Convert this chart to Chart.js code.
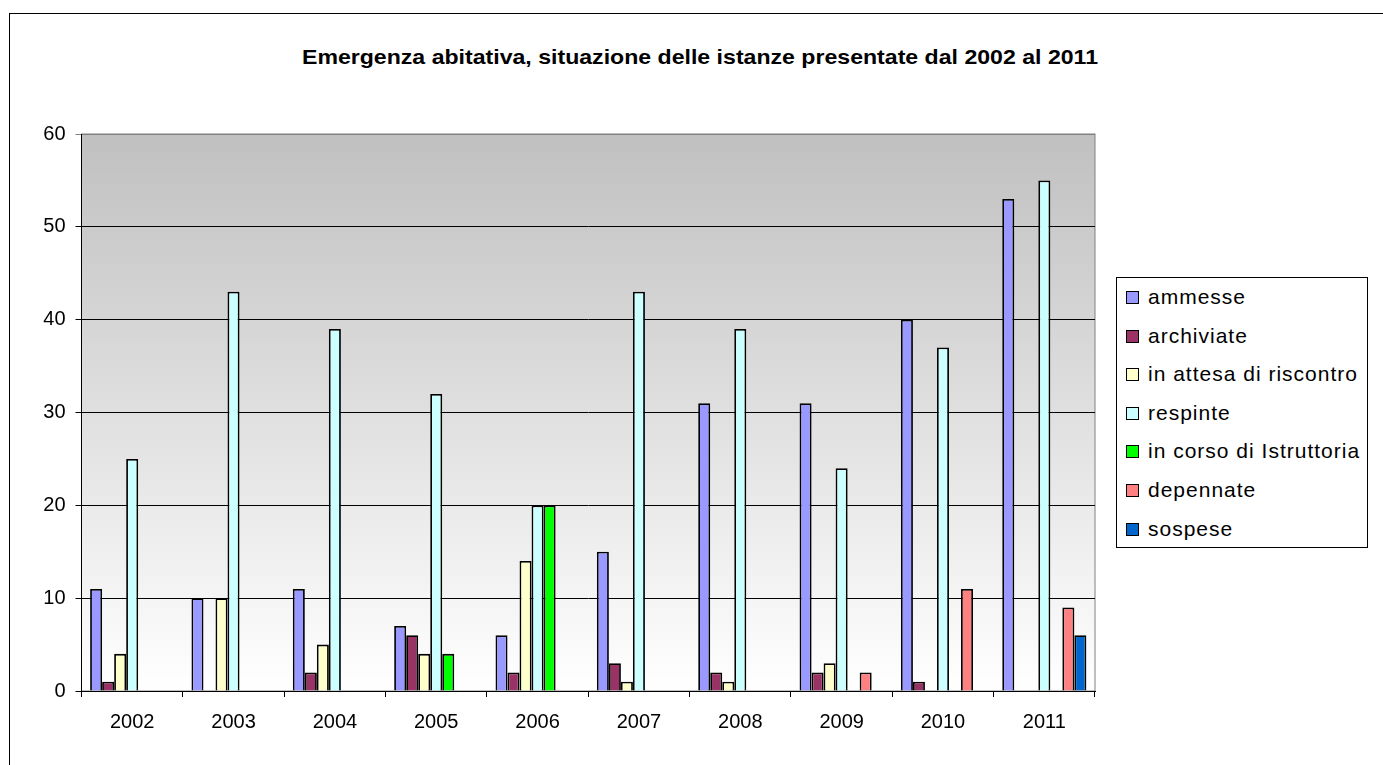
<!DOCTYPE html>
<html>
<head>
<meta charset="utf-8">
<script src="https://cdn.jsdelivr.net/npm/chart.js@4/dist/chart.umd.min.js"></script>
<style>
  html, body { margin: 0; padding: 0; background: #fff; overflow: hidden; }
  body { width: 1383px; height: 765px; position: relative; font-family: "Liberation Sans", Arial, sans-serif; }
  #frame { position: absolute; left: 9px; top: 13px; width: 2000px; height: 2000px;
           border-left: 1px solid #000; border-top: 1px solid #000; }
  #title { position: absolute; left: 0; width: 1400px; top: 45px; text-align: center;
           font-weight: bold; font-size: 21px; color: #000; transform: scaleX(1.1);
           transform-origin: 700px 0; }
  #wrap { position: absolute; left: 0; top: 0; width: 1383px; height: 765px; }
  #legend { position: absolute; left: 1116px; top: 277px; width: 252px; height: 271px;
            border: 1px solid #000; background: #fff; box-sizing: border-box; }
  .item { position: absolute; left: 9px; height: 24px; line-height: 24px; font-size: 21px;
          letter-spacing: 1px; white-space: nowrap; color: #000; }
  .sw { position: absolute; left: 0; top: 6px; width: 11px; height: 11px; border: 1px solid #000; }
  .item span.t { position: absolute; left: 22px; top: 0; }
</style>
</head>
<body>
<div id="frame"></div>
<div id="title">Emergenza abitativa, situazione delle istanze presentate dal 2002 al 2011</div>
<div id="wrap"><canvas id="chart"></canvas></div>
<div id="legend"></div>
<script>
/* values (null = no bar drawn) */
const years       = ['2002', '2003', '2004', '2005', '2006', '2007', '2008', '2009', '2010', '2011'];
const ammesse     = [11, 10, 11,  7,  6, 15, 31, 31, 40, 53];
const archiviate  = [ 1, null, 2, 6, 2,  3,  2,  2,  1, null];
const attesa      = [ 4, 10,  5,  4, 14,  1,  1,  3, null, null];
const respinte    = [25, 43, 39, 32, 20, 43, 39, 24, 37, 55];
const istruttoria = [null, null, null, 4, 20, null, null, null, null, null];
const depennate   = [null, null, null, null, null, null, null, 2, 11, 9];
const sospese     = [null, null, null, null, null, null, null, null, null, 6];

const SERIES = [
  ['ammesse',                 ammesse,     '#9999ff'],
  ['archiviate',              archiviate,  '#993366'],
  ['in attesa di riscontro',  attesa,      '#ffffcc'],
  ['respinte',                respinte,    '#ccffff'],
  ['in corso di Istruttoria', istruttoria, '#00ff00'],
  ['depennate',               depennate,   '#ff8080'],
  ['sospese',                 sospese,     '#0066cc'],
];

const FONT = '"Liberation Sans", Arial, sans-serif';

// grey-to-white plot background + grey plot frame
const plotBg = {
  id: 'plotBg',
  beforeDraw(chart) {
    const { ctx, chartArea: a } = chart;
    const g = ctx.createLinearGradient(0, a.top, 0, a.bottom);
    g.addColorStop(0, '#c0c0c0');
    g.addColorStop(1, '#ffffff');
    ctx.save();
    ctx.fillStyle = g;
    ctx.fillRect(a.left, a.top, a.right - a.left, a.bottom - a.top);
    ctx.strokeStyle = '#808080';
    ctx.lineWidth = 1;
    ctx.strokeRect(a.left, a.top, a.right - a.left, a.bottom - a.top);
    ctx.restore();
  },
};

const chart = new Chart(document.getElementById('chart'), {
  type: 'bar',
  data: {
    labels: years,
    datasets: SERIES.map(([label, data, color]) => ({
      label,
      data,
      backgroundColor: color,
      borderColor: '#000',
      borderWidth: 1.8,
      categoryPercentage: 0.83,
      barPercentage: 1.0,
    })),
  },
  options: {
    responsive: true,
    maintainAspectRatio: false,
    animation: false,
    layout: { padding: { left: 0, right: 288, top: 134, bottom: 34 } },
    plugins: {
      legend: { display: false },
      title: { display: false },
      tooltip: { enabled: false },
    },
    scales: {
      x: {
        grid: { drawOnChartArea: false, drawTicks: true, tickLength: 6, color: '#000', offset: true },
        border: { color: '#000', width: 1 },
        ticks: { color: '#000', font: { family: FONT, size: 20 }, padding: 13, maxRotation: 0 },
        afterFit(s) { s.height = 40; },
      },
      y: {
        min: 0,
        max: 60,
        grid: {
          color: (c) => (c.tick && c.tick.value === 60 ? '#808080' : '#000'),
          tickLength: 6,
          lineWidth: 1,
        },
        border: { color: '#000', width: 1 },
        ticks: { stepSize: 10, color: '#000', font: { family: FONT, size: 20 }, padding: 10 },
        afterFit(s) { s.width = 81.5; },
      },
    },
  },
  plugins: [plotBg],
});

/* legend as plain html, built from the same series list */
const legendEl = document.getElementById('legend');
SERIES.forEach(([label, , color], i) => {
  const div = document.createElement('div');
  div.className = 'item';
  div.style.top = (7 + i * 38.6) + 'px';
  div.innerHTML = '<div class="sw" style="background:' + color + '"></div><span class="t"></span>';
  div.querySelector('.t').textContent = label;
  legendEl.appendChild(div);
});
</script>
</body>
</html>
